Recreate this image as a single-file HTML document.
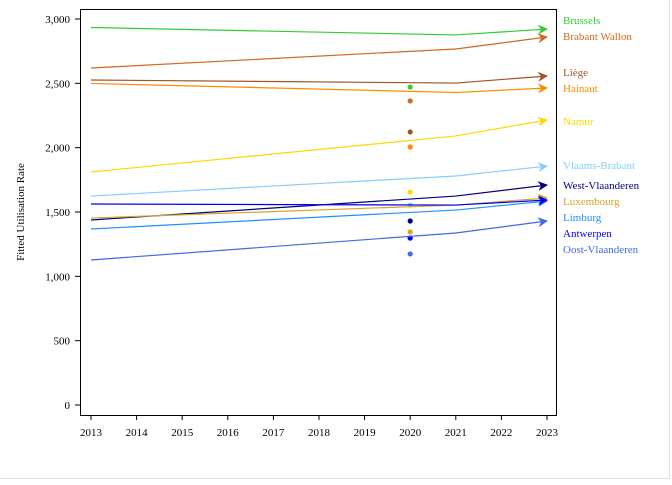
<!DOCTYPE html>
<html><head><meta charset="utf-8"><style>
body{margin:0;background:#fff;}
svg text{font-family:"Liberation Serif",serif;font-size:11px;}
</style></head><body>
<svg id="chart" width="672" height="480" xmlns="http://www.w3.org/2000/svg">
<rect x="0" y="0" width="672" height="480" fill="#fff"/>
<polyline points="0,478.5 669.5,478.5 669.5,0" fill="none" stroke="#e0e0e0"/>
<g id="plot"></g>
</svg>
<script>
const years=[2013,2014,2015,2016,2017,2018,2019,2020,2021,2022,2023];
const yTicks=[0,500,1000,1500,2000,2500,3000];
const names=["Brussels","Brabant Wallon","Liège","Hainaut","Namur","Vlaams-Brabant","West-Vlaanderen","Luxembourg","Limburg","Antwerpen","Oost-Vlaanderen"];
const colors=["#32cd32","#d2691e","#a0522d","#ff8c00","#ffd700","#87cefa","#000080","#daa520","#1e90ff","#0000ff","#4169e1"];
const lineYears=[2013,2021,2023];
const v2013=[2934,2619,2526,2499,1811,1624,1438,1453,1368,1562,1127];
const v2021=[2876,2767,2502,2429,2091,1780,1624,1554,1515,1554,1337];
const v2023=[2922,2860,2557,2464,2215,1857,1710,1609,1585,1593,1430];
const dot2020=[2471,2363,2122,2005,1655,1554,1430,1345,1298,1298,1174];
const labelY=[20,36,72,88,121,165,185,201,217,233,249];

const NS="http://www.w3.org/2000/svg";
const g=document.getElementById('plot');
const X=y=>91+(y-2013)*45.6;
const Y=v=>405-v*386/3000;
function mk(t,a){const e=document.createElementNS(NS,t);for(const k in a)e.setAttribute(k,a[k]);g.appendChild(e);return e;}
const defs=mk('defs',{});
colors.forEach((c,i)=>{const m=document.createElementNS(NS,'marker');m.setAttribute('id','ar'+i);m.setAttribute('viewBox','0 0 10 10');m.setAttribute('refX','9');m.setAttribute('refY','5');m.setAttribute('markerWidth','10');m.setAttribute('markerHeight','10');m.setAttribute('markerUnits','userSpaceOnUse');m.setAttribute('orient','auto');const p=document.createElementNS(NS,'path');p.setAttribute('d','M0,0 L10,5 L0,10 L3,5 z');p.setAttribute('fill',c);m.appendChild(p);defs.appendChild(m);});
let f=mk('rect',{x:80.5,y:9.5,width:476,height:406,fill:'none',stroke:'#000','stroke-width':1});

yTicks.forEach(t=>{
 let l=mk('line',{x1:75,x2:80,y1:Y(t),y2:Y(t),stroke:'#000'});
 
 let tx=mk('text',{x:70,y:Y(t)+4,'text-anchor':'end'});tx.textContent=t.toLocaleString('en-US');
 
});
years.forEach(yr=>{
 let l=mk('line',{x1:X(yr),x2:X(yr),y1:415,y2:420,stroke:'#000'});
 
 let tx=mk('text',{x:X(yr),y:436,'text-anchor':'middle'});tx.textContent=yr;
 
});
let yt=mk('text',{x:0,y:0,transform:'translate(24,212) rotate(-90)','text-anchor':'middle'});yt.textContent='Fitted Utilisation Rate';

names.forEach((n,i)=>{
 const vals=[v2013[i],v2021[i],v2023[i]];
 const pts=lineYears.map((yr,j)=>X(yr)+','+Y(vals[j])).join(' ');
 let p=mk('polyline',{points:pts,fill:'none',stroke:colors[i],'stroke-width':1.2,'marker-end':'url(#ar'+i+')'});
 
 let c=mk('circle',{cx:X(2020),cy:Y(dot2020[i]),r:2.6,fill:colors[i]});
 
 let t=mk('text',{x:563,y:labelY[i]+4,fill:colors[i]});t.textContent=n;
 
});
</script>
</body></html>
